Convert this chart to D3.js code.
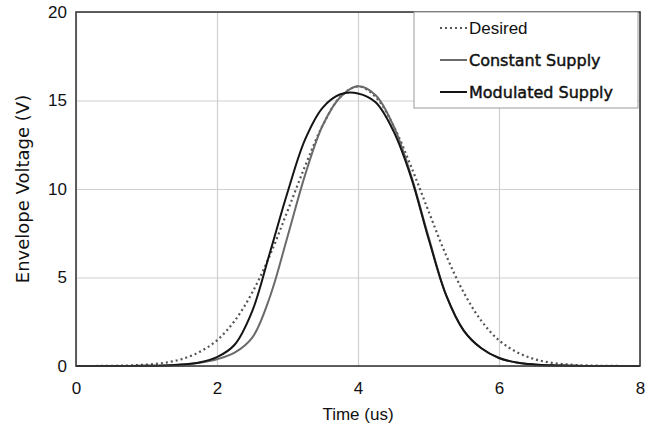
<!DOCTYPE html>
<html>
<head>
<meta charset="utf-8">
<script src="https://cdn.jsdelivr.net/npm/d3@7"></script>
<style>
  body { margin: 0; background: #fff; }
  svg { display: block; }
</style>
</head>
<body>
<div id="chart"></div>
<script>
// time axis (us) and the three envelope traces (V)
var times = [0, 0.25, 0.5, 0.75, 1, 1.25, 1.5, 1.75, 2, 2.25, 2.5, 2.75, 3, 3.25, 3.5, 3.75,
             4, 4.25, 4.5, 4.75, 5, 5.25, 5.5, 5.75, 6, 6.25, 6.5, 6.75, 7, 7.25, 7.5, 7.75, 8];
var desired = [0, 0, 0.01, 0.03, 0.08, 0.18, 0.39, 0.79, 1.45, 2.55, 4.15, 6.25, 8.75, 11.3, 13.6, 15.2,
               15.8, 15.2, 13.6, 11.3, 8.75, 6.25, 4.15, 2.55, 1.45, 0.79, 0.39, 0.18, 0.08, 0.03, 0.01, 0, 0];
var constantSupply = [0, 0, 0, 0, 0.01, 0.03, 0.08, 0.18, 0.38, 0.75, 1.6, 3.9, 7.3, 10.8, 13.6, 15.2,
                      15.8, 15.3, 13.6, 10.8, 7.3, 4.0, 2.0, 1.0, 0.45, 0.2, 0.09, 0.04, 0.02, 0, 0, 0, 0];
var modulatedSupply = [0, 0, 0, 0, 0.01, 0.03, 0.08, 0.2, 0.5, 1.2, 3.1, 6.4, 9.8, 12.8, 14.6, 15.35,
                       15.4, 14.9, 13.3, 10.7, 7.2, 4.0, 2.0, 1.0, 0.45, 0.2, 0.09, 0.04, 0.02, 0, 0, 0, 0];
var seriesNames = ["Desired", "Constant Supply", "Modulated Supply"];
var xTicks = [0, 2, 4, 6, 8];
var yTicks = [0, 5, 10, 15, 20];

var width = 657, height = 431;
var margin = {top: 12, right: 17, bottom: 65, left: 76};

var svg = d3.select("#chart").append("svg")
    .attr("width", width)
    .attr("height", height);

var x = d3.scaleLinear().domain([0, 8]).range([margin.left, width - margin.right]);
var y = d3.scaleLinear().domain([0, 20]).range([height - margin.bottom, margin.top]);

// grid
svg.append("g")
  .attr("transform", "translate(0," + (height - margin.bottom) + ")")
  .call(d3.axisBottom(x).tickValues(xTicks).tickSize(-(height - margin.bottom - margin.top)).tickFormat(""))
  .call(function(g) { g.select(".domain").remove(); })
  .selectAll("line").attr("stroke", "#cfcfcf").attr("stroke-width", 1.2);

svg.append("g")
  .attr("transform", "translate(" + margin.left + ",0)")
  .call(d3.axisLeft(y).tickValues(yTicks).tickSize(-(width - margin.left - margin.right)).tickFormat(""))
  .call(function(g) { g.select(".domain").remove(); })
  .selectAll("line").attr("stroke", "#cfcfcf").attr("stroke-width", 1.2);

// tick labels
var xAxis = svg.append("g")
  .attr("transform", "translate(0," + (height - margin.bottom) + ")")
  .call(d3.axisBottom(x).tickValues(xTicks).tickSize(0).tickPadding(16).tickFormat(d3.format("d")));
xAxis.select(".domain").remove();
xAxis.selectAll("text").style("font", "17px 'Liberation Sans', Arial, sans-serif").attr("fill", "#111");

var yAxis = svg.append("g")
  .attr("transform", "translate(" + margin.left + ",0)")
  .call(d3.axisLeft(y).tickValues(yTicks).tickSize(0).tickPadding(9).tickFormat(d3.format("d")));
yAxis.select(".domain").remove();
yAxis.selectAll("text").style("font", "17px 'Liberation Sans', Arial, sans-serif").attr("fill", "#111");

// lines
var rows = times.map(function(t, i) {
  return {t: t, d: desired[i], c: constantSupply[i], m: modulatedSupply[i]};
});

function makeLine(key) {
  return d3.line()
    .curve(d3.curveCatmullRom.alpha(0.5))
    .x(function(d) { return x(d.t); })
    .y(function(d) { return y(Math.max(0, d[key])); });
}

var plot = svg.append("g");

plot.append("path")
  .datum(rows)
  .attr("d", makeLine("d"))
  .attr("fill", "none")
  .attr("stroke", "#555")
  .attr("stroke-width", 2.2)
  .attr("stroke-dasharray", "2,3");

plot.append("path")
  .datum(rows)
  .attr("d", makeLine("c"))
  .attr("fill", "none")
  .attr("stroke", "#6a6a6a")
  .attr("stroke-width", 2);

plot.append("path")
  .datum(rows)
  .attr("d", makeLine("m"))
  .attr("fill", "none")
  .attr("stroke", "#151515")
  .attr("stroke-width", 2);

// frame
svg.append("rect")
  .attr("x", margin.left)
  .attr("y", margin.top)
  .attr("width", width - margin.left - margin.right)
  .attr("height", height - margin.top - margin.bottom)
  .attr("fill", "none")
  .attr("stroke", "#3a3a3a")
  .attr("stroke-width", 1.6);

// legend
var legend = svg.append("g").attr("transform", "translate(414,12)");
legend.append("rect")
  .attr("width", 224)
  .attr("height", 96)
  .attr("fill", "#fff")
  .attr("stroke", "#9a9a9a")
  .attr("stroke-width", 1);

var legendStyles = [
  {stroke: "#555", dash: "2,3", font: "17px 'Liberation Sans', Arial, sans-serif", heavy: 0},
  {stroke: "#6a6a6a", dash: null, font: "16px 'DejaVu Sans', sans-serif", heavy: 0.45},
  {stroke: "#151515", dash: null, font: "16px 'DejaVu Sans', sans-serif", heavy: 0.45}
];

seriesNames.forEach(function(name, i) {
  var ly = 16 + i * 32;
  legend.append("line")
    .attr("x1", 26).attr("x2", 53)
    .attr("y1", ly).attr("y2", ly)
    .attr("stroke", legendStyles[i].stroke)
    .attr("stroke-width", 2)
    .attr("stroke-dasharray", legendStyles[i].dash);
  legend.append("text")
    .attr("x", 55)
    .attr("y", ly)
    .attr("dy", "0.35em")
    .style("font", legendStyles[i].font)
    .attr("fill", "#111")
    .attr("stroke", legendStyles[i].heavy ? "#111" : null)
    .attr("stroke-width", legendStyles[i].heavy || null)
    .text(name);
});

// axis titles
svg.append("text")
  .attr("x", x(4))
  .attr("y", 420)
  .attr("text-anchor", "middle")
  .style("font", "17px 'Liberation Sans', Arial, sans-serif")
  .attr("fill", "#111")
  .text("Time (us)");

svg.append("text")
  .attr("transform", "translate(29," + y(10) + ") rotate(-90)")
  .attr("text-anchor", "middle")
  .style("font", "18px 'DejaVu Sans', sans-serif")
  .attr("fill", "#111")
  .text("Envelope Voltage (V)");
</script>
</body>
</html>
